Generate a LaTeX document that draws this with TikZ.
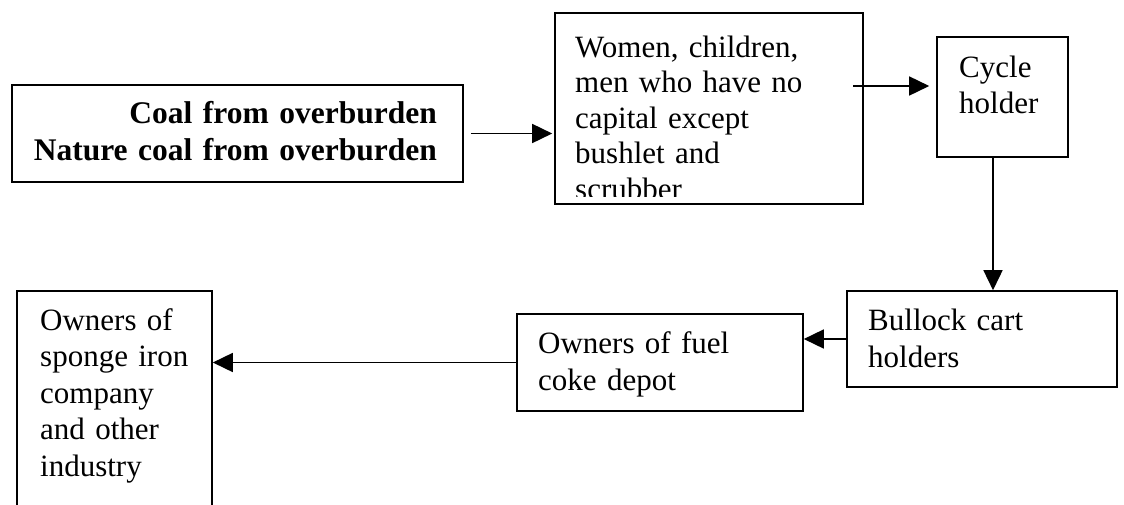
\documentclass[tikz,border=0pt]{standalone}
\usepackage{fontspec}
\setmainfont{Liberation Serif}
\usetikzlibrary{arrows.meta}
\begin{document}
\begin{tikzpicture}[x=1pt,y=-1pt,
  box/.style={draw, line width=1.6pt, rectangle, inner sep=0pt},
  txt/.style={inner sep=0pt, anchor=base west, align=left, text width=330pt},
  arr/.style={line width=1.6pt, -{Triangle[length=20pt,width=19pt]}}]
\useasboundingbox (0,0) rectangle (1124,504);
\clip (0,0) rectangle (1124,504);
\fill[white] (0,0) rectangle (1124,504);
% boxes
\node[box, minimum width=451pt, minimum height=97pt] (A) at (237.5,133.5) {};
\node[box, minimum width=308pt, minimum height=191pt] (B) at (709,108.5) {};
\node[box, minimum width=131pt, minimum height=120pt] (C) at (1002.5,97) {};
\node[box, minimum width=270pt, minimum height=96pt] (D) at (982,339) {};
\node[box, minimum width=286pt, minimum height=97pt] (E) at (660,362.5) {};
\node[box, minimum width=195pt, minimum height=238pt] (F) at (114.5,410) {};
% texts
\node[inner sep=0pt, anchor=base east, align=right, text width=430pt,
      font=\fontsize{31.5}{37}\selectfont\bfseries] (At) at (437,123)
      {Coal from overburden\\Nature coal from overburden};
\begin{scope}
\clip (555,13) rectangle (863,196);
\node[txt, font=\fontsize{31}{35.5}\selectfont] (Bt) at (575,57)
      {Women, children,\\men who have no\\capital except\\bushlet and\\scrubber};
\end{scope}
\node[txt, font=\fontsize{31}{36}\selectfont] (Ct) at (959,77) {Cycle\\holder};
\node[txt, font=\fontsize{31}{37}\selectfont] (Dt) at (868,330) {Bullock cart\\holders};
\node[txt, font=\fontsize{31}{37}\selectfont] (Et) at (538,353) {Owners of fuel\\coke depot};
\node[txt, font=\fontsize{31}{36.5}\selectfont] (Ft) at (40,330)
      {Owners of\\sponge iron\\company\\and other\\industry};
% connectors
\coordinate (bc) at (853,86);
\coordinate (cd) at (993,0);
\draw[arr, shorten <=7pt, shorten >=2pt] (A.east) -- (B.west |- A.east);
\draw[arr, shorten >=7pt] (bc) -- (C.west |- bc);
\draw[arr] (C.south -| cd) -- (D.north -| cd);
\draw[arr] (D.west) -- (E.east |- D.west);
\draw[arr] (E.west) -- (F.east |- E.west);
\end{tikzpicture}
\end{document}
